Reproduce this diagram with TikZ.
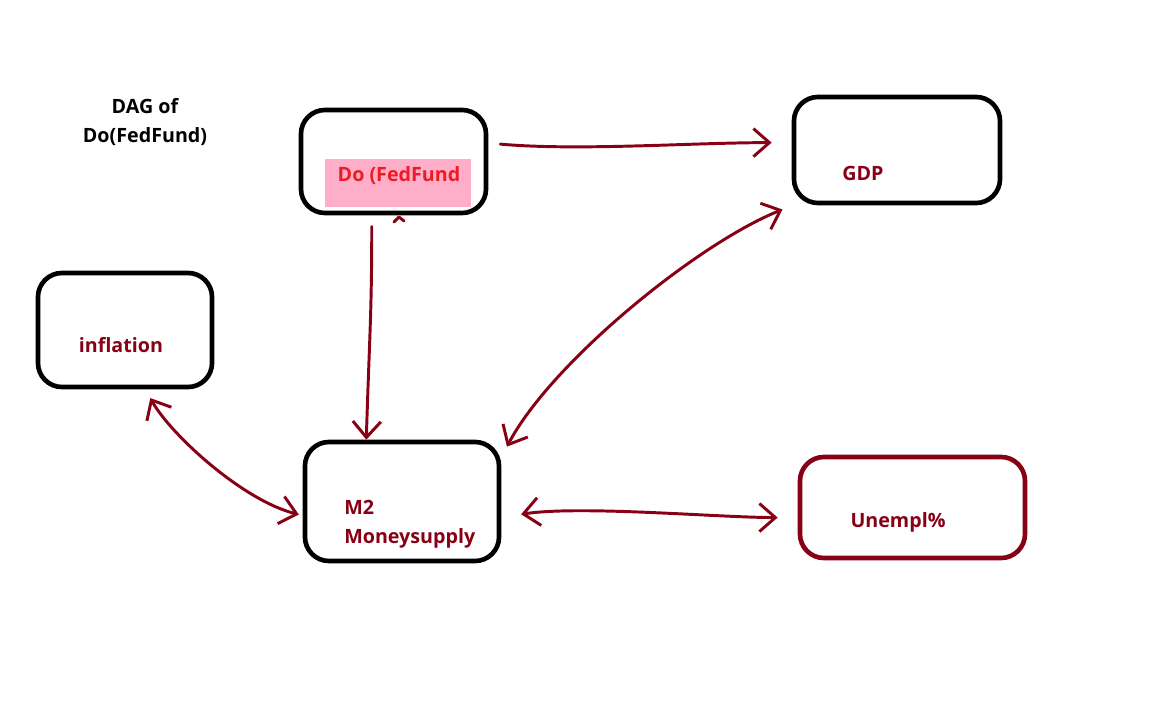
\documentclass[tikz,border=0pt]{standalone}
\usepackage{fontspec}
\setmainfont{Open Sans}
\usetikzlibrary{arrows.meta}
\definecolor{paintred}{HTML}{880015}
\definecolor{brightred}{HTML}{ED1C24}
\definecolor{paintpink}{HTML}{FFAEC9}
\begin{document}
\begin{tikzpicture}
  [x=0.025cm,y=-0.025cm,every node/.style={font=\bfseries\fontsize{14}{20.5}\selectfont,inner sep=0pt}]
  \tikzstyle{box} = [draw,line width=3.3pt,rounded corners=0.6cm]
  \tikzstyle{link} = [draw=paintred,line width=2.1pt,line cap=round,line join=round]
  \tikzstyle{onehead} = [-{Straight Barb[length=4mm,width=7mm]}]
  \tikzstyle{twohead} = [{Straight Barb[length=4mm,width=7mm]}-{Straight Barb[length=4mm,width=7mm]}]
  \useasboundingbox (0,0) rectangle (1152,720);
  % boxes
  \node (dofed)  at (393.5,161.5) [box,minimum width=4.625cm,minimum height=2.575cm] {};
  \node (gdp)    at (897,150)     [box,minimum width=5.15cm,minimum height=2.65cm] {};
  \node (infl)   at (125,330)     [box,minimum width=4.35cm,minimum height=2.85cm] {};
  \node (mtwo)   at (402,501.5)   [box,minimum width=4.85cm,minimum height=2.975cm] {};
  \node (unempl) at (912.5,507.5) [box,draw=paintred,minimum width=5.625cm,minimum height=2.525cm] {};
  % labels
  \node (title) at (145,122) [align=center] {DAG of\\Do(FedFund)};
  \node (dofedbg) at (398,183) [fill=paintpink,minimum width=3.65cm,minimum height=1.2cm] {};
  \node (dofedlbl) at (399,182) [anchor=base,text=brightred] {Do (FedFund};
  \node (gdplbl) at (863,181) [anchor=base,text=paintred] {GDP};
  \node (infllbl) at (121,353) [anchor=base,text=paintred] {inflation};
  \node (mtwolbl) at (344,500) [anchor=north west,align=left,text=paintred] {M2\\Moneysupply};
  \node (unempllbl) at (898,528) [anchor=base,text=paintred] {Unempl\%};
  % links
  \draw[link,onehead,shorten <=0.3cm,shorten >=0.5cm] (dofed.11) .. controls +(90,8) and +(-100,0) .. (gdp.176);
  \draw[link,onehead,shorten <=0.28cm] (dofed.248) .. controls +(0,100) and +(3,-100) .. (mtwo.120);
  \draw[link] (394,222) -- (399,217) -- (404,221);
  \draw[link,twohead,shorten <=0.28cm,shorten >=0.3cm] (gdp.208) .. controls +(-95,38) and +(50,-95) .. (mtwo.24);
  \draw[link,twohead,shorten <=0.25cm,shorten >=0.1cm] (infl.289) .. controls +(25,45) and +(-60,-15) .. (mtwo.188);
  \draw[link,twohead,shorten <=0.5cm,shorten >=0.5cm] (mtwo.351) .. controls +(80,-12) and +(-80,0) .. (unempl.185);
\end{tikzpicture}
\end{document}
